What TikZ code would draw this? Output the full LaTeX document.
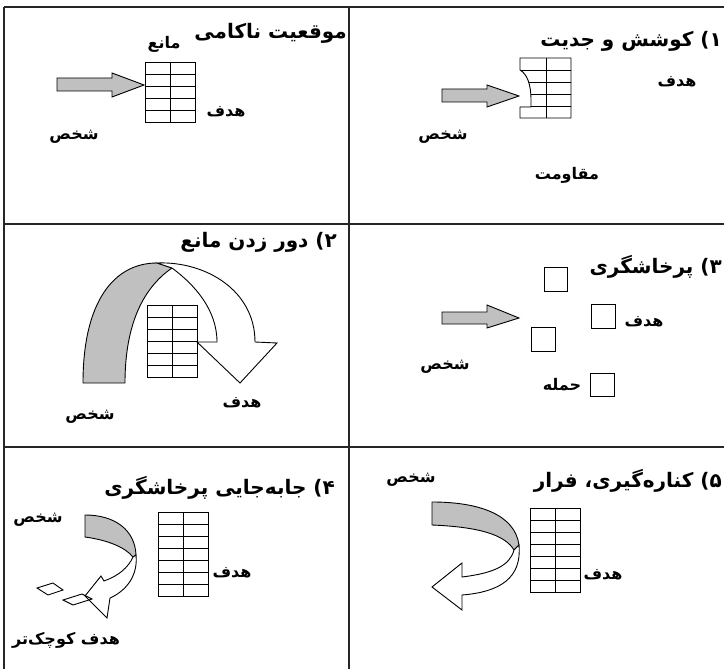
\documentclass[tikz,border=0pt]{standalone}
\usepackage{fontspec}
\newfontfamily\fafont[Script=Arabic]{DejaVu Sans}
\TeXXeTstate=1
\definecolor{ribbongray}{RGB}{192,192,192}
\newcommand{\rtltext}[1]{\beginR #1\endR}
% wall of bricks: left x, top y, number of rows
\newcommand{\brickwall}[3]{%
  \draw[brick] (#1,#2) rectangle ++(50,#3*12);
  \draw[brick] (#1+25,#2) -- ++(0,#3*12);
  \pgfmathtruncatemacro{\lastrow}{#3-1}
  \foreach \r in {1,...,\lastrow}
    \draw[brick] (#1,#2+\r*12) -- ++(50,0);
}
\tikzset{
  brick/.style={line width=0.9pt},
  cellrule/.style={line width=1.8pt, black!85},
  ribbon/.style={draw, line width=0.9pt, fill=ribbongray, line join=miter},
  ribbonback/.style={draw, line width=0.9pt, fill=white, line join=miter},
  celltitle/.style={font=\fafont\bfseries\fontsize{20}{24}\selectfont, inner sep=0pt, anchor=east},
  tag/.style={font=\fafont\bfseries\fontsize{16}{19}\selectfont, inner sep=0pt},
}
\begin{document}
\begin{tikzpicture}[x=1pt,y=-1pt]
  \useasboundingbox (0,0) rectangle (724,669);
  % Table rules
  \draw[cellrule] (4,7) -- (724,7);
  \draw[cellrule] (4,224) -- (724,224);
  \draw[cellrule] (4,447) -- (724,447);
  \draw[cellrule] (4,7) -- (4,669);
  \draw[cellrule] (349,7) -- (349,669);

  % Failure situation
  \node[celltitle] (failtitle) at (347,33) {\rtltext{موقعیت ناکامی}};
  \node[tag] (failblock) at (164,44) {\rtltext{مانع}};
  \brickwall{145}{62}{5}
  \draw[ribbon] (57,78) -- (112,78) -- (112,73) -- (144,85) -- (112,97) -- (112,91) -- (57,91) -- cycle;
  \node[tag] (failgoal) at (226,112) {\rtltext{هدف}};
  \node[tag] (failperson) at (74,137) {\rtltext{شخص}};

  % 1) Effort
  \node[celltitle] (efforttitle) at (722,41) {\rtltext{۱) کوشش و جدیت}};
  \begin{scope}
    \clip (520,58) -- (571,58) -- (571,118) -- (520,118) -- (520,107) -- (531,107) -- (531,100)
      .. controls (531,84) and (527,74) .. (520,70) -- cycle;
    \foreach \r in {1,...,4}
      \draw[brick] (515,58+\r*12) -- ++(60,0);
    \draw[brick] (546,58) -- (546,118);
  \end{scope}
  \draw[brick] (520,58) -- (571,58) -- (571,118) -- (520,118) -- (520,107) -- (531,107) -- (531,100)
    .. controls (531,84) and (527,74) .. (520,70) -- cycle;
  \draw[ribbon] (442,89) -- (487,89) -- (487,85) -- (519,96) -- (487,107) -- (487,102) -- (442,102) -- cycle;
  \node[tag] (effortgoal) at (677,82) {\rtltext{هدف}};
  \node[tag] (effortperson) at (443,137) {\rtltext{شخص}};
  \node[tag] (effortresist) at (567,175) {\rtltext{مقاومت}};

  % 2) Going round the block
  \node[celltitle] (detourtitle) at (337,242) {\rtltext{۲) دور زدن مانع}};
  \draw[ribbon] (83,383) .. controls (83,300) and (115,263) .. (157,263) -- (172,268)
    .. controls (140,290) and (125,330) .. (125,383) -- cycle;
  \draw[ribbonback] (157,263) .. controls (205,261) and (255,290) .. (255,342) -- (277,343) -- (240,383)
    -- (197,342) -- (217,342) .. controls (217,310) and (195,285) .. (172,268) -- cycle;
  \brickwall{147}{305}{6}
  \node[tag] (detourperson) at (90,417) {\rtltext{شخص}};
  \node[tag] (detourgoal) at (242,403) {\rtltext{هدف}};

  % 3) Aggression
  \node[celltitle] (aggrtitle) at (722,267) {\rtltext{۳) پرخاشگری}};
  \draw[brick] (544,267) rectangle ++(23,24);
  \draw[brick] (591,304) rectangle ++(24,24);
  \draw[brick] (531,327) rectangle ++(24,24);
  \draw[brick] (590,373) rectangle ++(24,23);
  \draw[ribbon] (442,312) -- (487,312) -- (487,305) -- (519,318) -- (487,328) -- (487,324) -- (442,324) -- cycle;
  \node[tag] (aggrgoal) at (644,322) {\rtltext{هدف}};
  \node[tag] (aggrperson) at (445,367) {\rtltext{شخص}};
  \node[tag] (aggrattack) at (562,385) {\rtltext{حمله}};

  % 4) Displaced aggression
  \node[celltitle] (disptitle) at (335,488) {\rtltext{۴) جابه^^^^200cجایی پرخاشگری}};
  \node[tag] (dispperson) at (38,520) {\rtltext{شخص}};
  \brickwall{158}{512}{7}
  \draw[ribbon] (85,515) .. controls (115,515) and (135,530) .. (136,555) -- (133,557)
    .. controls (125,547) and (107,540) .. (85,537) -- cycle;
  \draw[ribbonback] (136,555) .. controls (138,574) and (128,590) .. (110,598) -- (107,618) -- (85,596)
    -- (101,576) -- (104,581) .. controls (118,576) and (128,568) .. (133,557) -- cycle;
  \draw[brick] (37,588) -- (53,583) -- (63,590) -- (48,595) -- cycle;
  \draw[brick] (63,600) -- (82,594) -- (92,599) -- (73,605) -- cycle;
  \node[tag] (dispgoal) at (232,573) {\rtltext{هدف}};
  \node[tag] (dispsmall) at (66,640) {\rtltext{هدف کوچک^^^^200cتر}};

  % 5) Withdrawal
  \node[celltitle] (withdrawtitle) at (722,481) {\rtltext{۵) کناره^^^^200cگیری، فرار}};
  \node[tag] (withdrawperson) at (411,480) {\rtltext{شخص}};
  \brickwall{530}{508}{7}
  \draw[ribbon] (432,502) .. controls (480,502) and (515,515) .. (519,545) -- (514,550)
    .. controls (505,535) and (480,527) .. (432,525) -- cycle;
  \draw[ribbonback] (519,545) .. controls (522,578) and (500,592) .. (462,595) -- (462,610) -- (432,587)
    -- (462,563) -- (462,577) .. controls (495,573) and (510,565) .. (514,550) -- cycle;
  \node[tag] (withdrawgoal) at (603,575) {\rtltext{هدف}};
\end{tikzpicture}
\end{document}
